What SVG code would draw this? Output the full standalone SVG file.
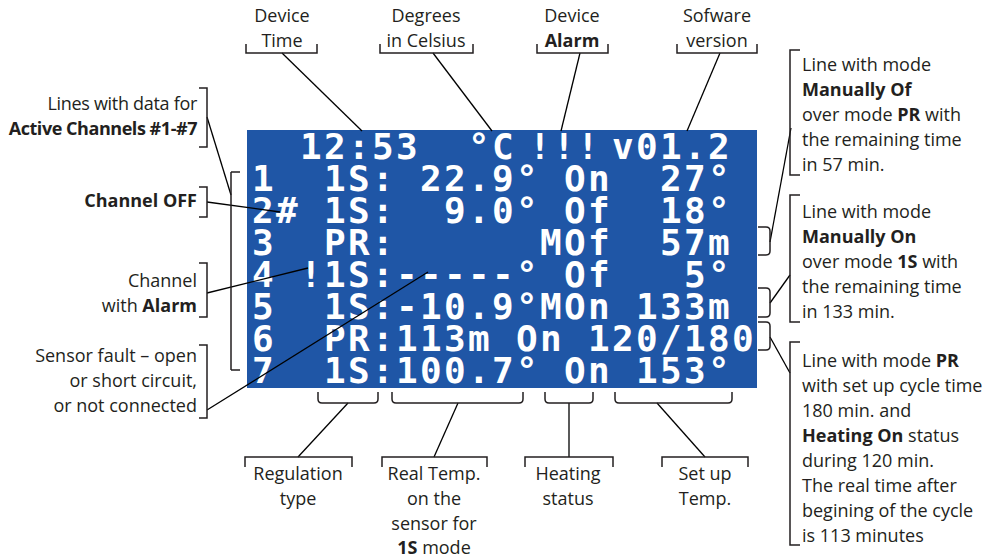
<svg xmlns="http://www.w3.org/2000/svg" width="1001" height="557" viewBox="0 0 1001 557" xml:space="preserve">
<style>
.lbl{font-family:"Open Sans","Liberation Sans",sans-serif;font-size:18px;fill:#231f20}
.b{font-weight:bold}
.mid{text-anchor:middle}
.end{text-anchor:end}
.lcd{font-family:"DejaVu Sans Mono","Liberation Mono",monospace;font-size:36px;font-weight:bold;fill:#ffffff;letter-spacing:2.33px;white-space:pre}
.br{fill:none;stroke:#231f20;stroke-width:1.5}
.ln{fill:none;stroke:#000;stroke-width:1.3}
</style>
<rect width="1001" height="557" fill="#ffffff"/>
<g id="lcd">
<rect x="247" y="130" width="510" height="258" fill="#1f56a6"/>
<text class="lcd" y="159"><tspan x="300">12:53</tspan><tspan x="468">°C</tspan><tspan x="529">!!!</tspan><tspan x="612">v01.2</tspan></text>
<text class="lcd" x="252" y="191">1  1S: 22.9° On  27°</text>
<text class="lcd" x="252" y="223">2# 1S:  9.0° Of  18°</text>
<text class="lcd" x="252" y="255">3  PR:      MOf  57m</text>
<text class="lcd" x="252" y="287">4 !1S:-----° Of   5°</text>
<text class="lcd" x="252" y="319">5  1S:-10.9°MOn 133m</text>
<text class="lcd" x="252" y="351">6  PR:113m On 120/180</text>
<text class="lcd" x="252" y="383">7  1S:100.7° On 153°</text>
</g>
<g id="connectors">
<path class="ln" d="M282,53 L362,131"/>
<path class="ln" d="M433,53 L492,131"/>
<path class="ln" d="M580,53 L561,131"/>
<path class="ln" d="M720,53 L687,131"/>
<path class="ln" d="M207,117 L231,195"/>
<path class="ln" d="M207,202 L280,212"/>
<path class="ln" d="M207,293 L308,268"/>
<path class="ln" d="M207,410 L428,272"/>
<path class="ln" d="M770,242 L791,128"/>
<path class="ln" d="M770,303 L790,275"/>
<path class="ln" d="M770,337 L790,373"/>
<path class="ln" d="M348,403 L298,457"/>
<path class="ln" d="M458,403 L434,457"/>
<path class="ln" d="M569,403 L569,457"/>
<path class="ln" d="M657,403 L705,457"/>
</g>
<g id="lcd-brackets">
<path class="br" d="M231,172 H240 M231,370 H240 M231,172 V370"/>
<path class="br" d="M758,227 H766 Q770,227 770,231 V251 Q770,255 766,255 H758"/>
<path class="br" d="M758,288 H766 Q770,288 770,292 V313 Q770,317 766,317 H758"/>
<path class="br" d="M758,322 H766 Q770,322 770,326 V346 Q770,350 766,350 H758"/>
<path class="br" d="M318,392 V399 Q318,403 322,403 H374 Q378,403 378,399 V392"/>
<path class="br" d="M392,392 V399 Q392,403 396,403 H519 Q523,403 523,399 V392"/>
<path class="br" d="M545,392 V399 Q545,403 549,403 H589 Q593,403 593,399 V392"/>
<path class="br" d="M615,392 V399 Q615,403 619,403 H728 Q732,403 732,399 V392"/>
</g>
<g id="device-time">
<path class="br" d="M246,44 V53 H317 V44"/>
<text class="lbl mid" x="282" y="22">Device</text>
<text class="lbl mid" x="282" y="47">Time</text>
</g>
<g id="degrees">
<path class="br" d="M380,44 V53 H473 V44"/>
<text class="lbl mid" x="426" y="22">Degrees</text>
<text class="lbl mid" x="426" y="47">in Celsius</text>
</g>
<g id="device-alarm">
<path class="br" d="M537,44 V53 H608 V44"/>
<text class="lbl mid" x="572" y="22">Device</text>
<text class="lbl mid b" x="572" y="47">Alarm</text>
</g>
<g id="software">
<path class="br" d="M677,44 V53 H757 V44"/>
<text class="lbl mid" x="717" y="22">Sofware</text>
<text class="lbl mid" x="717" y="47">version</text>
</g>
<g id="active-channels">
<path class="br" d="M199,88 H207 V147 H199"/>
<text class="lbl end" x="197" y="110" style="letter-spacing:-0.3px">Lines with data for</text>
<text class="lbl end b" x="197" y="135" style="letter-spacing:-0.45px">Active Channels #1-#7</text>
</g>
<g id="channel-off">
<path class="br" d="M199,187 H207 V217 H199"/>
<text class="lbl end b" x="197" y="207">Channel OFF</text>
</g>
<g id="channel-alarm">
<path class="br" d="M199,263 H207 V317 H199"/>
<text class="lbl end" x="197" y="287">Channel</text>
<text class="lbl end" x="197" y="312">with <tspan class="b">Alarm</tspan></text>
</g>
<g id="sensor-fault">
<path class="br" d="M199,345 H207 V418 H199"/>
<text class="lbl end" x="197" y="362">Sensor fault – open</text>
<text class="lbl end" x="197" y="387">or short circuit,</text>
<text class="lbl end" x="197" y="412">or not connected</text>
</g>
<g id="manually-of">
<path class="br" d="M800,50 H790 V175 H800"/>
<text class="lbl" x="802" y="71">Line with mode</text>
<text class="lbl b" x="802" y="96">Manually Of</text>
<text class="lbl" x="802" y="121">over mode <tspan class="b">PR</tspan> with</text>
<text class="lbl" x="802" y="146">the remaining time</text>
<text class="lbl" x="802" y="171">in 57 min.</text>
</g>
<g id="manually-on">
<path class="br" d="M800,195 H790 V322 H800"/>
<text class="lbl" x="802" y="218">Line with mode</text>
<text class="lbl b" x="802" y="243">Manually On</text>
<text class="lbl" x="802" y="268">over mode <tspan class="b">1S</tspan> with</text>
<text class="lbl" x="802" y="293">the remaining time</text>
<text class="lbl" x="802" y="318">in 133 min.</text>
</g>
<g id="pr-mode">
<path class="br" d="M800,342 H790 V545 H800"/>
<text class="lbl" x="802" y="367">Line with mode <tspan class="b">PR</tspan></text>
<text class="lbl" x="802" y="392">with set up cycle time</text>
<text class="lbl" x="802" y="417">180 min. and</text>
<text class="lbl" x="802" y="442"><tspan class="b">Heating On</tspan> status</text>
<text class="lbl" x="802" y="467">during 120 min.</text>
<text class="lbl" x="802" y="492">The real time after</text>
<text class="lbl" x="802" y="517">begining of the cycle</text>
<text class="lbl" x="802" y="542">is 113 minutes</text>
</g>
<g id="regulation">
<path class="br" d="M245,467 V457 H352 V467"/>
<text class="lbl mid" x="298" y="480">Regulation</text>
<text class="lbl mid" x="298" y="505">type</text>
</g>
<g id="real-temp">
<path class="br" d="M382,467 V457 H487 V467"/>
<text class="lbl mid" x="434" y="480">Real Temp.</text>
<text class="lbl mid" x="434" y="505">on the</text>
<text class="lbl mid" x="434" y="530">sensor for</text>
<text class="lbl mid" x="434" y="554"><tspan class="b">1S</tspan> mode</text>
</g>
<g id="heating">
<path class="br" d="M525,467 V457 H613 V467"/>
<text class="lbl mid" x="568" y="480">Heating</text>
<text class="lbl mid" x="568" y="505">status</text>
</g>
<g id="setup-temp">
<path class="br" d="M662,467 V457 H748 V467"/>
<text class="lbl mid" x="705" y="480">Set up</text>
<text class="lbl mid" x="705" y="505">Temp.</text>
</g>
</svg>
